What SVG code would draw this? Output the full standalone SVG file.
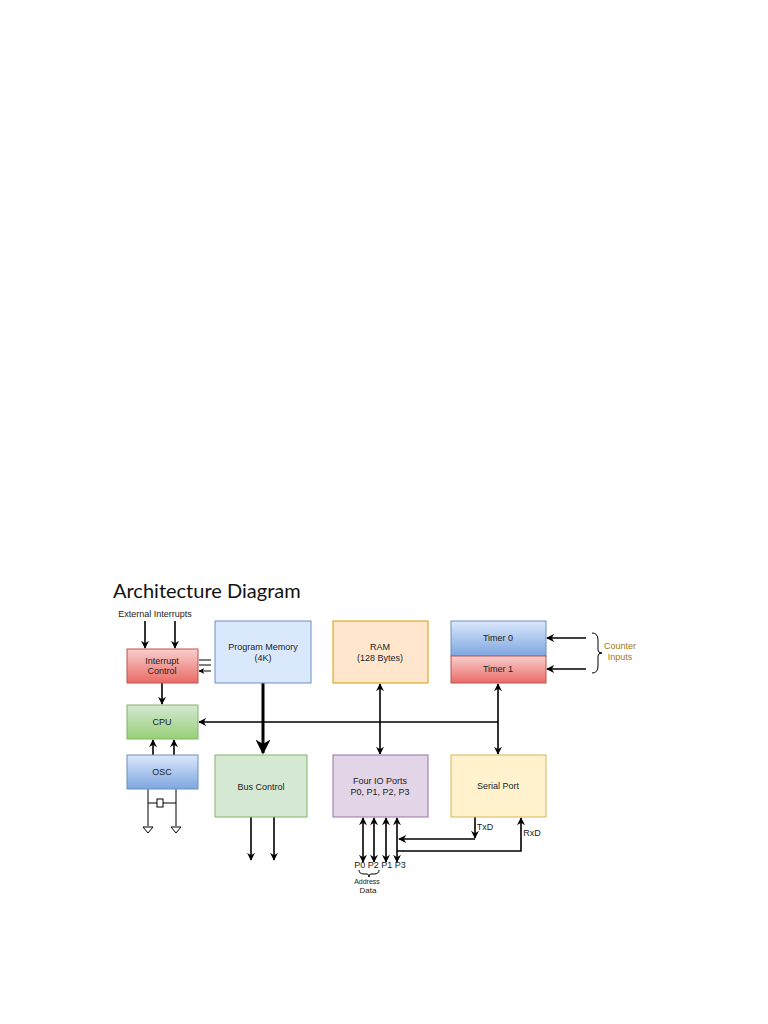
<svg xmlns="http://www.w3.org/2000/svg" width="768" height="1024" viewBox="0 0 768 1024">
<defs>
<style>
text{font-family:"Liberation Sans",Arial,sans-serif;font-size:9px;fill:#222;text-anchor:middle}
.l{stroke:#000;stroke-width:1.6;fill:none}
.t{stroke:#000;stroke-width:3;fill:none}
.s{stroke:#000;stroke-width:1;fill:none}
</style>
<linearGradient id="gr" x1="0" y1="0" x2="0" y2="1"><stop offset="0" stop-color="#f8cecc"/><stop offset="1" stop-color="#ea6b66"/></linearGradient>
<linearGradient id="gb" x1="0" y1="0" x2="0" y2="1"><stop offset="0" stop-color="#dae8fc"/><stop offset="1" stop-color="#7ea6e0"/></linearGradient>
<linearGradient id="gg" x1="0" y1="0" x2="0" y2="1"><stop offset="0" stop-color="#d5e8d4"/><stop offset="1" stop-color="#97d077"/></linearGradient>
<marker id="a" viewBox="0 0 10 10" refX="9" refY="5" markerWidth="5" markerHeight="5" orient="auto-start-reverse"><path d="M0,0L10,5L0,10L3,5z" fill="#000"/></marker>
<marker id="as" viewBox="0 0 10 10" refX="9" refY="5" markerWidth="6" markerHeight="6" orient="auto-start-reverse"><path d="M0,0L10,5L0,10L3,5z" fill="#000"/></marker>
</defs>
<rect width="768" height="1024" fill="#fff"/>
<text x="113" y="598" style="font-family:Lato,sans-serif;font-size:20px;text-anchor:start;fill:#111">Architecture Diagram</text>
<text x="155" y="617">External Interrupts</text>

<g id="connectors">
<path class="l" d="M145,621V648" marker-end="url(#a)"/>
<path class="l" d="M175,621V648" marker-end="url(#a)"/>
<path class="s" d="M211,660H199M211,665H199M211,671H199" marker-end="url(#as)"/>
<path class="l" d="M162,683V704" marker-end="url(#a)"/>
<path class="l" d="M153,755V740" marker-end="url(#a)"/>
<path class="l" d="M174,755V740" marker-end="url(#a)"/>
<path class="s" d="M148,789V826M176,789V826M148,803H157M163,803H176"/>
<rect x="157" y="799" width="6" height="8" fill="#fff" stroke="#000"/>
<path class="s" d="M143,827H153L148,833zM171,827H181L176,833z" fill="#fff"/>
<path class="t" d="M263,683V753" marker-end="url(#a)"/>
<path class="l" d="M251,817V860" marker-end="url(#a)"/>
<path class="l" d="M274,817V860" marker-end="url(#a)"/>
<path class="l" d="M380,684V754" marker-start="url(#a)" marker-end="url(#a)"/>
<path class="l" d="M498,684V754" marker-start="url(#a)" marker-end="url(#a)"/>
<path class="l" d="M498,722H199" marker-end="url(#a)"/>
<path class="l" d="M586,638H547" marker-end="url(#a)"/>
<path class="l" d="M586,669H547" marker-end="url(#a)"/>
<path class="s" d="M592,633Q598,633 598,640V650Q598,653 602,653Q598,653 598,656V666Q598,673 592,673"/>
<path class="l" d="M363,818V862" marker-start="url(#a)" marker-end="url(#a)"/>
<path class="l" d="M374,818V862" marker-start="url(#a)" marker-end="url(#a)"/>
<path class="l" d="M386,818V862" marker-start="url(#a)" marker-end="url(#a)"/>
<path class="l" d="M397,818V862" marker-start="url(#a)" marker-end="url(#a)"/>
<path class="l" d="M475,817V838" marker-end="url(#a)"/>
<path class="l" d="M475,839H399" marker-end="url(#a)"/>
<path class="l" d="M397,851H521V818" marker-end="url(#a)"/>
<path class="s" d="M359,870Q359,874 364,874H367Q369,874 369,877Q369,874 371,874H374Q379,874 379,870"/>
</g>

<g id="interrupt"><rect x="127" y="649" width="71" height="34" fill="url(#gr)" stroke="#b85450"/><text x="162" y="664">Interrupt</text><text x="162" y="674">Control</text></g>
<g id="cpu"><rect x="127" y="705" width="71" height="34" fill="url(#gg)" stroke="#82b366"/><text x="162" y="725">CPU</text></g>
<g id="osc"><rect x="127" y="755" width="71" height="34" fill="url(#gb)" stroke="#6c8ebf"/><text x="162" y="775">OSC</text></g>
<g id="progmem"><rect x="215" y="621" width="96" height="62" fill="#dae8fc" stroke="#6c8ebf"/><text x="263" y="650">Program Memory</text><text x="263" y="661">(4K)</text></g>
<g id="buscontrol"><rect x="215" y="755" width="92" height="62" fill="#d5e8d4" stroke="#82b366"/><text x="261" y="790">Bus Control</text></g>
<g id="ram"><rect x="333" y="621" width="95" height="62" fill="#ffe6cc" stroke="#d79b00"/><text x="380" y="650">RAM</text><text x="380" y="661">(128 Bytes)</text></g>
<g id="ioports"><rect x="333" y="755" width="95" height="62" fill="#e1d5e7" stroke="#9673a6"/><text x="380" y="784">Four IO Ports</text><text x="380" y="795">P0, P1, P2, P3</text></g>
<g id="timer0"><rect x="451" y="621" width="95" height="35" fill="url(#gb)" stroke="#6c8ebf"/><text x="498" y="641">Timer 0</text></g>
<g id="timer1"><rect x="451" y="656" width="95" height="27" fill="url(#gr)" stroke="#b85450"/><text x="498" y="672">Timer 1</text></g>
<g id="serial"><rect x="451" y="755" width="95" height="62" fill="#fff2cc" stroke="#d6b656"/><text x="498" y="789">Serial Port</text></g>

<text x="620" y="649" style="fill:#a07a10">Counter</text>
<text x="620" y="660" style="fill:#a07a10">Inputs</text>
<text x="485" y="830">TxD</text>
<text x="532" y="836">RxD</text>
<text x="380" y="868">P0 P2 P1 P3</text>
<text x="367" y="884" style="font-size:7px">Address</text>
<text x="368" y="893" style="font-size:8px">Data</text>
</svg>
